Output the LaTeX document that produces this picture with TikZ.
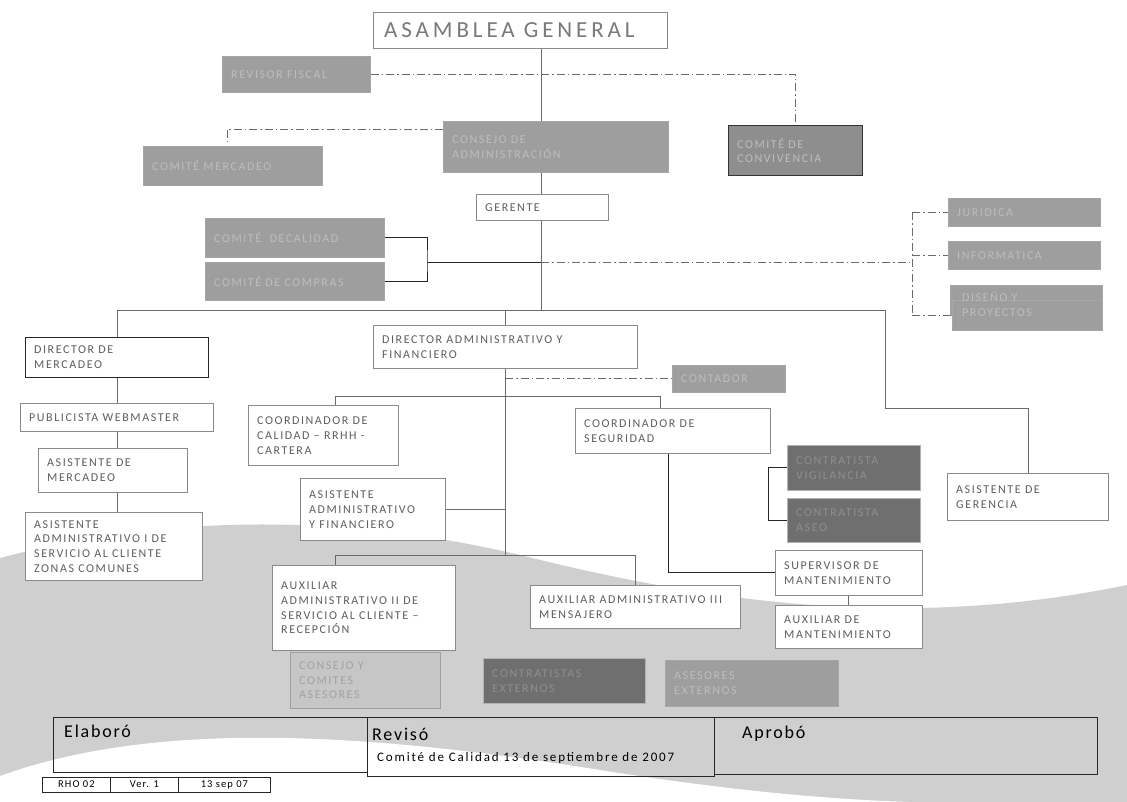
\documentclass[tikz,border=0pt]{standalone}
\usepackage{fontspec}
\setmainfont{Carlito}
\newfontfamily\boxfont[LetterSpace=13]{Carlito}
\newfontfamily\titlefont[LetterSpace=17]{Carlito}
\newfontfamily\tablefont[LetterSpace=10]{Carlito}
\newfontfamily\notefont[LetterSpace=14]{Carlito}
\definecolor{wave}{HTML}{CFCFCF}
\definecolor{bdr}{HTML}{8A8A8A}
\definecolor{txt}{HTML}{5E5E5E}
\definecolor{gfill}{HTML}{9E9E9E}
\definecolor{gtxt}{HTML}{BDBDBD}
\definecolor{dfill}{HTML}{6F6F6F}
\definecolor{dtxt}{HTML}{8E8E8E}
\definecolor{lfill}{HTML}{C6C6C6}
\definecolor{ltxt}{HTML}{A2A2A2}
\definecolor{cline}{HTML}{6A6A6A}
\tikzset{
  wbox/.style={draw=bdr, fill=white, line width=0.8pt},
  kbox/.style={draw=black!85, fill=white, line width=0.9pt},
  gbox/.style={draw=gray!70, fill=gfill, line width=0.6pt},
  cbox/.style={draw=black!80, fill=gfill!90!black, line width=0.9pt},
  dbox/.style={draw=gray!60, fill=dfill, line width=0.6pt},
  lbox/.style={draw=gray!75, fill=lfill, line width=0.6pt},
  lbl/.style={font=\boxfont\fontsize{12}{14.8}\selectfont, text=txt, align=left, inner sep=0pt},
  glbl/.style={lbl, text=gtxt},
  dlbl/.style={lbl, text=dtxt},
  llbl/.style={lbl, text=ltxt},
  conn/.style={draw=cline, line width=0.8pt},
  bconn/.style={draw=black!85, line width=0.9pt},
  dconn/.style={draw=cline, line width=0.8pt, dash pattern=on 8pt off 3pt on 1.5pt off 3pt},
  cell/.style={draw=black!85, line width=0.9pt, inner sep=0pt, anchor=north west},
  head/.style={anchor=west, font=\tablefont\fontsize{18}{20}\selectfont, inner sep=0pt},
  small/.style={font=\tablefont\fontsize{10.5}{12}\selectfont, inner sep=0pt, text height=7pt, text depth=2pt},
}
% \obox[label style]{box style}{name}{x}{y}{width}{height}{text}
\newcommand\obox[8][lbl]{%
  \node[#2, minimum width=#6pt, minimum height=#7pt, anchor=north west, inner sep=0pt] (#3) at (#4,#5) {};
  \node[#1, anchor=west] (#3-t) at ([xshift=9pt]#3.west) {#8};
}
\begin{document}
\begin{tikzpicture}[x=1pt, y=-1pt]
\useasboundingbox (0,0) rectangle (1127,802);
\fill[white] (0,0) rectangle (1127,802);
% background wave
\fill[wave] (0,558) .. controls (150,518) and (330,510) .. (520,555)
  .. controls (700,600) and (900,632) .. (1127,585) -- (1127,802) -- (0,802) -- cycle;
\fill[white] (0,776) .. controls (150,722) and (350,730) .. (600,770)
  .. controls (750,794) and (850,800) .. (910,802) -- (0,802) -- cycle;

% top level
\node[wbox, minimum width=294pt, minimum height=36pt, anchor=north west, inner sep=0pt] (asm) at (373,12) {};
\node[font=\titlefont\fontsize{23}{25}\selectfont, text=gray!95!black, anchor=west, inner sep=0pt] (asm-t) at ([xshift=11pt]asm.west) {ASAMBLEA GENERAL};
\obox[glbl]{gbox}{rev}{222}{56}{148}{36}{REVISOR FISCAL}
\obox[glbl]{gbox}{cons}{443}{121}{225}{51}{\baselineskip=19pt CONSEJO DE\\ADMINISTRACIÓN}
\obox[glbl]{gbox}{cmer}{143}{146}{179}{39}{COMITÉ MERCADEO}
\obox[glbl]{cbox}{conv}{728}{125}{134}{50}{COMITÉ DE\\CONVIVENCIA}
\obox{wbox}{ger}{476}{194}{132}{26}{GERENTE}
\obox[glbl]{gbox}{ccal}{205}{218}{179}{39}{COMITÉ\ \ DECALIDAD}
\obox[glbl]{gbox}{ccom}{205}{262}{179}{38}{COMITÉ DE COMPRAS}

% advisory column
\obox[glbl]{gbox}{jur}{948}{198}{152}{28}{JURIDICA}
\obox[glbl]{gbox}{inf}{948}{241}{152}{28}{INFORMATICA}
\node[gbox, minimum width=152pt, minimum height=30pt, anchor=north west, inner sep=0pt] (dis0) at (950,285) {};
\obox[glbl]{gbox}{dis}{952}{300}{150}{30}{}
\node[glbl, anchor=north west] (dis-t2) at (962,292) {DISEÑO Y\\PROYECTOS};

% management level
\obox{kbox}{dmer}{25}{337}{183}{40}{DIRECTOR DE\\MERCADEO}
\obox{wbox}{pub}{20}{403}{193}{28}{PUBLICISTA WEBMASTER}
\obox{wbox}{amer}{38}{448}{149}{44}{ASISTENTE DE\\MERCADEO}
\obox{wbox}{asc}{25}{512}{177}{68}{ASISTENTE\\ADMINISTRATIVO I DE\\SERVICIO AL CLIENTE\\ZONAS COMUNES}
\obox{wbox}{dadm}{373}{325}{264}{43}{DIRECTOR ADMINISTRATIVO Y\\FINANCIERO}
\obox[glbl]{gbox}{cont}{672}{365}{113}{27}{CONTADOR}
\obox{wbox}{ccalr}{248}{405}{150}{60}{COORDINADOR DE\\CALIDAD – RRHH -\\CARTERA}
\obox{wbox}{cseg}{575}{408}{195}{45}{COORDINADOR DE\\SEGURIDAD}
\obox{wbox}{aaf}{300}{478}{145}{62}{ASISTENTE\\ADMINISTRATIVO\\Y FINANCIERO}
\obox[dlbl]{dbox}{cvig}{787}{445}{133}{45}{CONTRATISTA\\VIGILANCIA}
\obox[dlbl]{dbox}{case}{787}{498}{133}{44}{CONTRATISTA\\ASEO}
\obox{wbox}{ager}{947}{473}{161}{47}{ASISTENTE DE\\GERENCIA}
\obox{wbox}{aux2}{272}{565}{183}{85}{AUXILIAR\\ADMINISTRATIVO II DE\\SERVICIO AL CLIENTE –\\RECEPCIÓN}
\obox{wbox}{aux3}{530}{585}{210}{43}{AUXILIAR ADMINISTRATIVO III\\MENSAJERO}
\obox{wbox}{smant}{775}{550}{147}{45}{SUPERVISOR DE\\MANTENIMIENTO}
\obox{wbox}{amant}{775}{605}{147}{43}{AUXILIAR DE\\MANTENIMIENTO}

% legend
\obox[llbl]{lbox}{leg1}{290}{652}{150}{56}{CONSEJO Y\\COMITES\\ASESORES}
\obox[dlbl]{dbox}{leg2}{483}{658}{162}{45}{CONTRATISTAS\\EXTERNOS}
\obox[glbl]{gbox}{leg3}{665}{660}{173}{46}{ASESORES\\EXTERNOS}

% connector junctions
\coordinate (tr) at (541,0);
\coordinate (hb) at (541,310);
\coordinate (brk) at (427,262);
\coordinate (rc) at (912,262);
\coordinate (gcorner) at (885,408);
\coordinate (da) at (505,0);
\coordinate (cl) at (335,396);
\coordinate (cr) at (660,396);
\coordinate (al) at (335,555);
\coordinate (ar) at (635,555);
\coordinate (mm) at (227,142);
\coordinate (sx) at (668,0);
\coordinate (vx) at (768,0);
\coordinate (mx) at (848,0);

% trunk
\draw[conn] (asm.south -| tr) -- (cons.north -| tr);
\draw[conn] (cons.south -| tr) -- (ger.north -| tr);
\draw[conn] (ger.south -| tr) -- (hb);
\draw[dconn] (rev.east) -| (conv.north);
\draw[dconn] ([yshift=-8pt]cons.north west) -| (mm);
% committees bracket
\draw[bconn] (ccal.east) -| (brk) |- (ccom.east);
\draw[bconn] (brk) -- (brk -| tr);
% advisers column
\draw[dconn] (brk -| tr) -- (rc);
\draw[dconn] (rc |- jur.west) -- (rc |- dis.west);
\draw[dconn] (rc |- jur.west) -- (jur.west);
\draw[dconn] (rc |- inf.west) -- (inf.west);
\draw[dconn] (rc |- dis.west) -- (dis.west);
% main horizontal bar
\draw[conn] (hb -| dmer.north) -- (gcorner |- hb);
\draw[conn] (gcorner |- hb) -- (gcorner) -| (ager.north);
\draw[conn] (hb -| dmer.north) -- (dmer.north);
\draw[conn] (hb -| da) -- (dadm.north -| da);
% marketing chain
\draw[conn] (dmer.south -| dmer.north) -- (pub.north -| dmer.north);
\draw[conn] (pub.south -| dmer.north) -- (amer.north -| dmer.north);
\draw[conn] (amer.south -| dmer.north) -- (asc.north -| dmer.north);
% administration branch
\draw[conn] (dadm.south -| da) -- (al -| da);
\draw[dconn] (cont.west -| da) -- (cont.west);
\draw[conn] (cl) -- (cr);
\draw[conn] (cl) -- (ccalr.north -| cl);
\draw[conn] (cr) -- (cseg.north -| cr);
\draw[conn] (aaf.east) -- (aaf.east -| da);
\draw[conn] (al) -- (ar);
\draw[conn] (al) -- (aux2.north -| al);
\draw[conn] (ar) -- (aux3.north -| ar);
% security branch
\draw[bconn] (cseg.south -| sx) |- (smant.west);
\draw[bconn] (cvig.west) -| (vx |- case.west) -- (case.west);
\draw[conn] (smant.south -| mx) -- (amant.north -| mx);

% sign-off table
\node[cell, minimum width=314pt, minimum height=55pt] (elab) at (53,717) {};
\node[cell, minimum width=347pt, minimum height=59pt] (revi) at (367,717) {};
\node[cell, minimum width=383pt, minimum height=57pt] (aprob) at (714,717) {};
\node[head] (elab-t) at (64,731) {Elaboró};
\node[head] (revi-t) at (372,734) {Revisó};
\node[head] (aprob-t) at (742,734) {Aprobó};
\node[anchor=west, font=\notefont\fontsize{13}{15}\selectfont, inner sep=0pt] (revi-d) at (377,758) {Comité de Calidad 13 de septiembre de 2007};
\node[cell, minimum width=68pt, minimum height=15pt] (c1) at (42,777) {};
\node[cell, minimum width=68pt, minimum height=15pt] (c2) at (110,777) {};
\node[cell, minimum width=92pt, minimum height=15pt] (c3) at (178,777) {};
\node[small] (c1-t) at (c1.center) {RHO 02};
\node[small] (c2-t) at (c2.center) {Ver. 1};
\node[small] (c3-t) at (c3.center) {13 sep 07};
\end{tikzpicture}
\end{document}
